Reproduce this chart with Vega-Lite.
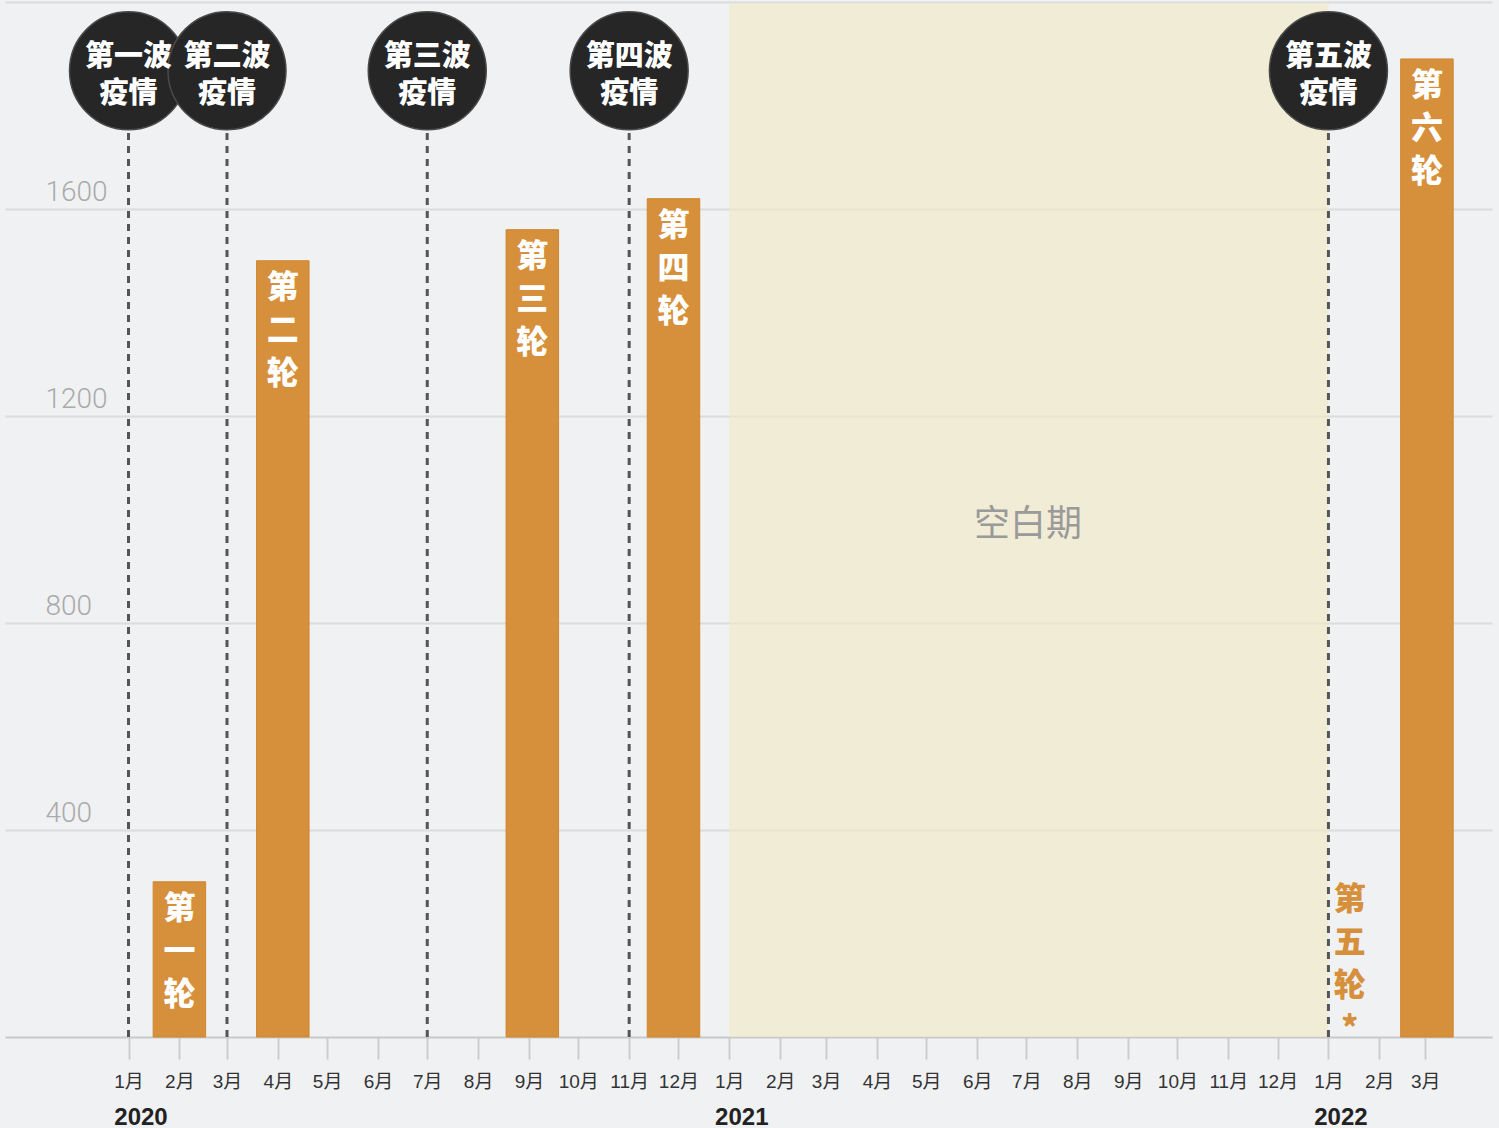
{
  "$schema": "https://vega.github.io/schema/vega-lite/v6.json",
  "autosize": {"type": "none"},
  "width": 1487,
  "height": 1035,
  "padding": {"left": 5, "top": 2, "right": 7, "bottom": 91},
  "background": "#f0f1f3",
  "config": {
    "view": {"stroke": null},
    "font": "Liberation Sans, Noto Sans CJK SC"
  },
  "datasets": {
    "rounds": [
      {"date": "2020-02-01", "value": 300, "label": "第\n一\n轮"},
      {"date": "2020-04-04", "value": 1500, "label": "第\n二\n轮"},
      {"date": "2020-09-03", "value": 1560, "label": "第\n三\n轮"},
      {"date": "2020-11-28", "value": 1620, "label": "第\n四\n轮"},
      {"date": "2022-01-14", "value": 0, "label": "第\n五\n轮\n*"},
      {"date": "2022-03-02", "value": 1890, "label": "第\n六\n轮"}
    ],
    "waves": [
      {"date": "2020-01-01", "label": "第一波\n疫情"},
      {"date": "2020-03-01", "label": "第二波\n疫情"},
      {"date": "2020-07-01", "label": "第三波\n疫情"},
      {"date": "2020-11-01", "label": "第四波\n疫情"},
      {"date": "2022-01-01", "label": "第五波\n疫情"}
    ],
    "gap": [
      {"start": "2021-01-01", "end": "2022-01-01", "mid": "2021-07-02", "label": "空白期"}
    ]
  },
  "resolve": {"axis": {"x": "independent", "y": "independent"}},
  "layer": [
    {
      "data": {"name": "gap"},
      "mark": {"type": "rect", "fill": "#f2e9c3", "opacity": 0.6},
      "encoding": {
        "x": {
          "field": "start", "type": "temporal",
          "scale": {"type": "utc", "nice": false, "padding": 0, "domain": [
            {"year": 2019, "month": 10, "date": 17, "hours": 18, "minutes": 14, "utc": true},
            {"year": 2022, "month": 4, "date": 10, "hours": 15, "minutes": 22, "utc": true}
          ]},
          "axis": {
            "orient": "bottom", "title": null, "domain": false, "ticks": false, "grid": false,
            "values": [
              {"year": 2020, "month": 1, "date": 1, "utc": true},
              {"year": 2021, "month": 1, "date": 1, "utc": true},
              {"year": 2022, "month": 1, "date": 1, "utc": true}
            ],
            "labelExpr": "utcFormat(datum.value, '%Y')",
            "labelFont": "Liberation Sans", "labelFontWeight": "bold", "labelFontSize": 24,
            "labelColor": "#222222", "labelPadding": 68, "labelOffset": 12, "labelFlush": false
          }
        },
        "x2": {"field": "end"},
        "y": {"datum": 0, "type": "quantitative", "scale": {"domain": [0, 2000], "nice": false, "padding": 0}, "axis": null},
        "y2": {"datum": 1997}
      }
    },
    {
      "data": {"name": "gap"},
      "mark": {"type": "text", "fontSize": 36, "color": "#9a9a9a", "font": "Noto Sans CJK SC", "baseline": "middle", "align": "center"},
      "encoding": {
        "x": {"field": "mid", "type": "temporal", "axis": null},
        "y": {"datum": 990, "type": "quantitative", "axis": null},
        "text": {"field": "label"}
      }
    },
    {
      "data": {"name": "waves"},
      "mark": {"type": "rule", "color": "#555555", "strokeWidth": 3, "strokeDash": [7, 6]},
      "encoding": {
        "x": {"field": "date", "type": "temporal", "axis": null},
        "y": {"datum": 0, "type": "quantitative", "axis": null},
        "y2": {"datum": 1753}
      }
    },
    {
      "data": {"name": "rounds"},
      "transform": [{"filter": "datum.value > 0"}],
      "mark": {"type": "bar", "width": 52.5, "fill": "#d68f3a", "stroke": "#cf872f", "strokeWidth": 1},
      "encoding": {
        "x": {
          "field": "date", "type": "temporal",
          "axis": {
            "orient": "bottom", "title": null, "grid": false,
            "values": [
              {"year": 2020, "month": 1, "date": 1, "utc": true},
              {"year": 2020, "month": 2, "date": 1, "utc": true},
              {"year": 2020, "month": 3, "date": 1, "utc": true},
              {"year": 2020, "month": 4, "date": 1, "utc": true},
              {"year": 2020, "month": 5, "date": 1, "utc": true},
              {"year": 2020, "month": 6, "date": 1, "utc": true},
              {"year": 2020, "month": 7, "date": 1, "utc": true},
              {"year": 2020, "month": 8, "date": 1, "utc": true},
              {"year": 2020, "month": 9, "date": 1, "utc": true},
              {"year": 2020, "month": 10, "date": 1, "utc": true},
              {"year": 2020, "month": 11, "date": 1, "utc": true},
              {"year": 2020, "month": 12, "date": 1, "utc": true},
              {"year": 2021, "month": 1, "date": 1, "utc": true},
              {"year": 2021, "month": 2, "date": 1, "utc": true},
              {"year": 2021, "month": 3, "date": 1, "utc": true},
              {"year": 2021, "month": 4, "date": 1, "utc": true},
              {"year": 2021, "month": 5, "date": 1, "utc": true},
              {"year": 2021, "month": 6, "date": 1, "utc": true},
              {"year": 2021, "month": 7, "date": 1, "utc": true},
              {"year": 2021, "month": 8, "date": 1, "utc": true},
              {"year": 2021, "month": 9, "date": 1, "utc": true},
              {"year": 2021, "month": 10, "date": 1, "utc": true},
              {"year": 2021, "month": 11, "date": 1, "utc": true},
              {"year": 2021, "month": 12, "date": 1, "utc": true},
              {"year": 2022, "month": 1, "date": 1, "utc": true},
              {"year": 2022, "month": 2, "date": 1, "utc": true},
              {"year": 2022, "month": 3, "date": 1, "utc": true}
            ],
            "labelExpr": "utcFormat(datum.value, '%-m') + '月'",
            "domainColor": "#c9c9c9", "domainWidth": 2,
            "tickColor": "#cdcdcd", "tickWidth": 2, "tickSize": 22,
            "labelFont": "Liberation Sans, Noto Sans CJK SC", "labelFontSize": 19, "labelColor": "#333333",
            "labelPadding": 13, "labelFlush": false, "labelOverlap": false
          }
        },
        "y": {
          "field": "value", "type": "quantitative",
          "axis": {
            "title": null, "orient": "left", "domain": false, "ticks": false, "tickSize": 0,
            "values": [400, 800, 1200, 1600, 2000],
            "labelExpr": "datum.value < 2000 ? format(datum.value, 'd') : ''",
            "grid": true, "gridColor": "#dcdcdc", "gridWidth": 2,
            "labelAlign": "left", "labelBaseline": "alphabetic", "labelPadding": -40, "labelOffset": -9,
            "labelFont": "Roboto", "labelFontWeight": 300, "labelFontSize": 28, "labelColor": "#aaaaaa"
          }
        }
      }
    },
    {
      "data": {"name": "rounds"},
      "transform": [{"filter": "datum.value > 0"}],
      "mark": {"type": "text", "color": "#ffffff", "font": "Noto Sans CJK SC", "fontWeight": 900, "fontSize": 32,
               "lineBreak": "\n", "lineHeight": 43, "baseline": "top", "align": "center", "dy": 12},
      "encoding": {
        "x": {"field": "date", "type": "temporal", "axis": null},
        "y": {"field": "value", "type": "quantitative", "axis": null},
        "text": {"field": "label"}
      }
    },
    {
      "data": {"name": "rounds"},
      "transform": [{"filter": "datum.value == 0"}],
      "mark": {"type": "text", "color": "#d68f3a", "font": "Noto Sans CJK SC", "fontWeight": 900, "fontSize": 32,
               "lineBreak": "\n", "lineHeight": 43, "baseline": "top", "align": "center", "dy": -152},
      "encoding": {
        "x": {"field": "date", "type": "temporal", "axis": null},
        "y": {"field": "value", "type": "quantitative", "axis": null},
        "text": {"field": "label"}
      }
    },
    {
      "data": {"name": "waves"},
      "mark": {"type": "point", "shape": "circle", "filled": true, "fill": "#262626", "stroke": "#4a4a4a", "strokeWidth": 1.5, "size": 13924, "opacity": 1},
      "encoding": {
        "x": {"field": "date", "type": "temporal", "axis": null},
        "y": {"datum": 1867, "type": "quantitative", "axis": null}
      }
    },
    {
      "data": {"name": "waves"},
      "mark": {"type": "text", "color": "#ffffff", "font": "Noto Sans CJK SC", "fontWeight": 900, "fontSize": 29,
               "lineBreak": "\n", "lineHeight": 37, "baseline": "middle", "align": "center", "dy": -14},
      "encoding": {
        "x": {"field": "date", "type": "temporal", "axis": null},
        "y": {"datum": 1867, "type": "quantitative", "axis": null},
        "text": {"field": "label"}
      }
    }
  ]
}
